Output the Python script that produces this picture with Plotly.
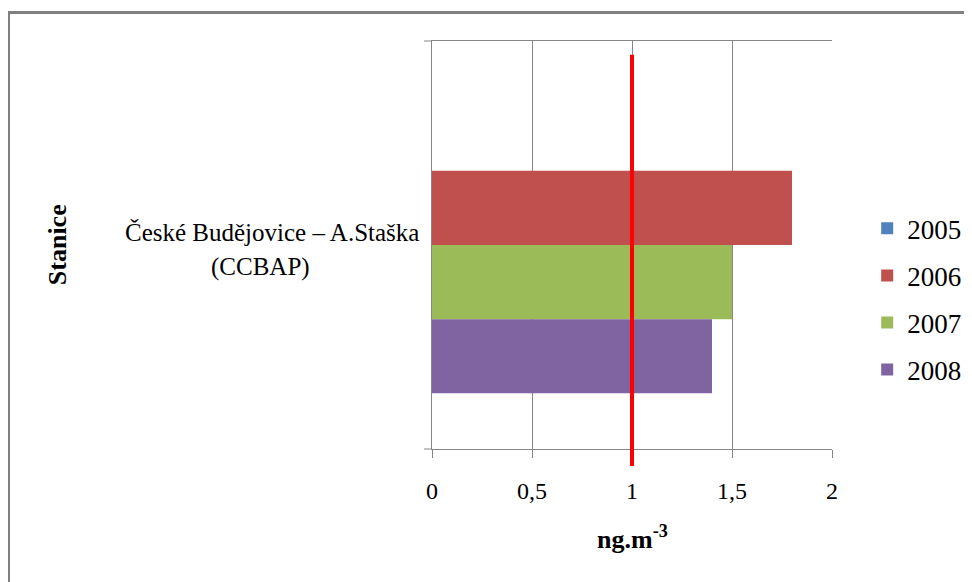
import plotly.graph_objects as go

categories = ["České Budějovice – A.Staška (CCBAP)"]
category_label_lines = ["České Budějovice – A.Staška", "(CCBAP)"]
years = ["2005", "2006", "2007", "2008"]
values_2005 = [None]
values_2006 = [1.8]
values_2007 = [1.5]
values_2008 = [1.4]
limit_value = 1
x_ticks = [0, 0.5, 1, 1.5, 2]
x_tick_labels = ["0", "0,5", "1", "1,5", "2"]

series = [values_2005, values_2006, values_2007, values_2008]
colors = ["#4F81BD", "#C0504D", "#9BBB59", "#8064A2"]

SERIF = "Liberation Serif"
GRID = "#868686"

fig = go.Figure()
for name, vals, col in zip(years, series, colors):
    fig.add_trace(go.Bar(
        x=vals, y=categories, orientation="h", name=name,
        marker=dict(color=col, line=dict(width=0)),
        legendgroup=name,
    ))

fig.update_layout(
    width=972, height=582,
    margin=dict(l=424, r=148, t=33, b=141),
    paper_bgcolor="white", plot_bgcolor="white",
    barmode="group", bargap=1.5 / 5.5, bargroupgap=0,
    font=dict(family=SERIF, size=24, color="black"),
    showlegend=True,
    legend=dict(
        x=1.088, xanchor="left", y=0.367, yanchor="middle",
        font=dict(family=SERIF, size=27, color="black"),
        traceorder="grouped", tracegroupgap=9,
        bgcolor="rgba(0,0,0,0)", itemwidth=30,
    ),
    xaxis=dict(
        range=[0, 2], tickvals=x_ticks, ticktext=x_tick_labels,
        showgrid=True, gridcolor=GRID, gridwidth=1,
        showline=True, linecolor=GRID, linewidth=1, mirror=True,
        ticks="outside", ticklen=8, tickcolor=GRID, tickwidth=1,
        zeroline=False, fixedrange=True,
        tickfont=dict(family=SERIF, size=24, color="black"),
        ticklabelstandoff=12,
    ),
    yaxis=dict(
        range=[0.5, -0.5], type="category",
        showticklabels=False, ticks="",
        showline=True, linecolor=GRID, linewidth=1,
        showgrid=False, zeroline=False, fixedrange=True,
    ),
    shapes=[
        # outer chart border (top & left visible)
        dict(type="line", xref="paper", yref="paper", x0=-1.066, x1=1.6, y0=1.0699, y1=1.0699,
             line=dict(color="#808080", width=3), layer="above"),
        dict(type="line", xref="paper", yref="paper", x0=-1.0588, x1=-1.0588, y0=1.0735, y1=-0.45,
             line=dict(color="#808080", width=3), layer="above"),
        # category axis tick marks at category boundaries
        dict(type="line", xref="paper", yref="paper", x0=-0.02, x1=0, y0=1, y1=1,
             line=dict(color=GRID, width=1)),
        dict(type="line", xref="paper", yref="paper", x0=-0.02, x1=0, y0=0, y1=0,
             line=dict(color=GRID, width=1)),
        # limit line
        dict(type="line", xref="x", yref="paper", x0=limit_value, x1=limit_value,
             y0=-0.0417, y1=0.966, line=dict(color="#FF0000", width=4), layer="above"),
    ],
    annotations=[
        dict(text=category_label_lines[0], xref="paper", yref="y", x=-0.40, y=categories[0],
             xanchor="center", yanchor="middle", showarrow=False, yshift=13,
             font=dict(family=SERIF, size=25, color="black")),
        dict(text=category_label_lines[1], xref="paper", yref="y", x=-0.428, y=categories[0],
             xanchor="center", yanchor="middle", showarrow=False, yshift=-22,
             font=dict(family=SERIF, size=25, color="black")),
        dict(text="<b>Stanice</b>", xref="paper", yref="paper", x=-0.937, y=0.5,
             xanchor="center", yanchor="middle", textangle=-90, showarrow=False,
             font=dict(family=SERIF, size=26, color="black")),
        dict(text="<b>ng.m<sup>-3</sup></b>", xref="paper", yref="paper", x=0.5, y=-0.216,
             xanchor="center", yanchor="middle", showarrow=False,
             font=dict(family=SERIF, size=26, color="black")),
    ],
)

fig.write_html("out.html")
